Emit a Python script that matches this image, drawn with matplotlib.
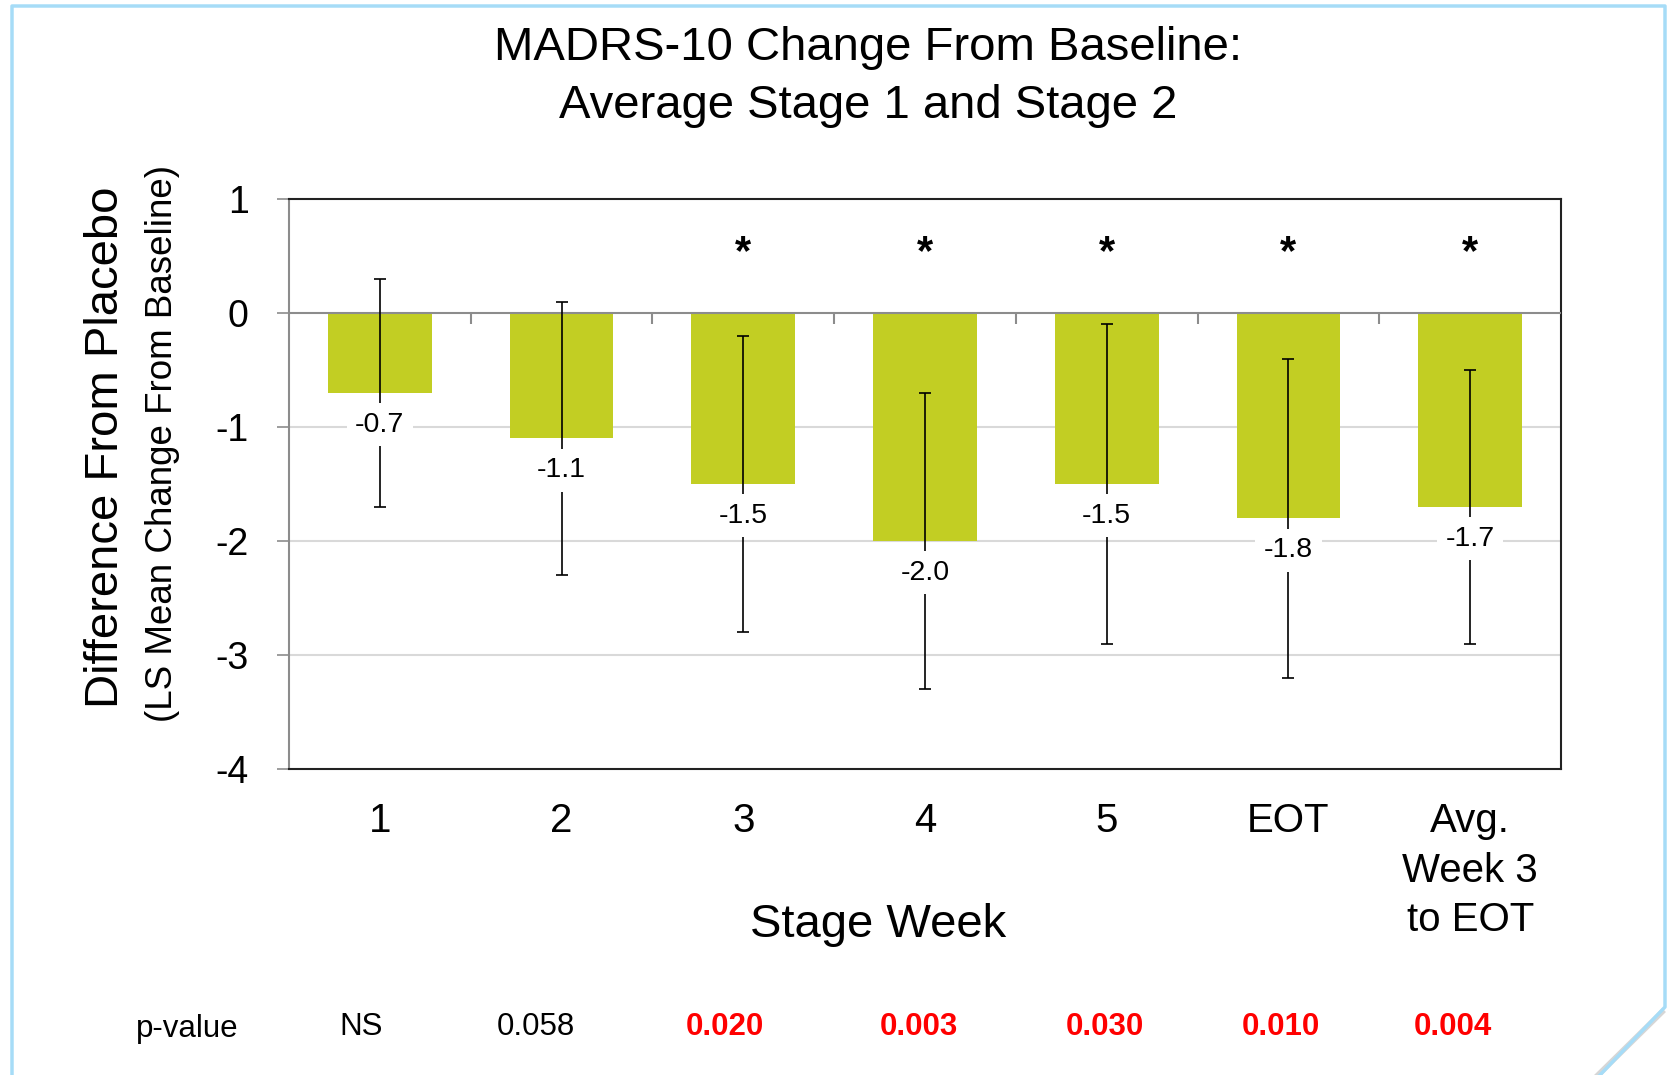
import matplotlib
matplotlib.use('Agg')
import matplotlib.pyplot as plt
from matplotlib.lines import Line2D
from matplotlib.patches import Polygon
import matplotlib.transforms as mtransforms

plt.rcParams['font.family'] = ['Liberation Sans', 'DejaVu Sans']

# data
weeks = ['1', '2', '3', '4', '5', 'EOT', 'Avg.\nWeek 3\nto EOT']
diff = [-0.7, -1.1, -1.5, -2.0, -1.5, -1.8, -1.7]
ci_upper = [0.3, 0.1, -0.2, -0.7, -0.1, -0.4, -0.5]
ci_lower = [-1.7, -2.3, -2.8, -3.3, -2.9, -3.2, -2.9]
significant = [False, False, True, True, True, True, True]
p_values = ['NS', '0.058', '0.020', '0.003', '0.030', '0.010', '0.004']

bar_color = '#C2CE23'
W, H = 1667, 1075

fig = plt.figure(figsize=(W / 100, H / 100), dpi=100)
ax = fig.add_axes([289 / W, 1 - 769 / H, (1561 - 289) / W, (769 - 199) / H])

x = list(range(len(weeks)))
err_lo = [d - lo for d, lo in zip(diff, ci_lower)]
err_hi = [hi - d for d, hi in zip(diff, ci_upper)]

# grid + zero line
for g in [-1, -2, -3]:
    ax.axhline(g, color='#d9d9d9', lw=1.5, zorder=0)
ax.bar(x, diff, width=0.57, color=bar_color, zorder=2)
ax.axhline(0, color='#8c8c8c', lw=1.5, zorder=3)
ax.vlines([i + 0.5 for i in x[:-1]], -0.1, 0, color='#8c8c8c', lw=1.5, zorder=3)
ax.errorbar(x, diff, yerr=[err_lo, err_hi], fmt='none', ecolor='black',
            elinewidth=1.2, capsize=4.5, capthick=1.2, zorder=4)

# value labels with white boxes
for i, d in enumerate(diff):
    ax.annotate(f'{d:.1f}', (i, d), xytext=(0, -23), textcoords='offset points',
                ha='center', va='center', fontsize=20.5, zorder=5,
                bbox=dict(boxstyle='square,pad=0.3', fc='white', ec='none'))

# significance stars
for i, s in enumerate(significant):
    if s:
        ax.text(i, 0.53, '*', ha='center', va='center', fontsize=30, fontweight='bold')

ax.set_xlim(-0.5, len(weeks) - 0.5)
ax.set_ylim(-4, 1)
ax.set_yticks([1, 0, -1, -2, -3, -4])
ax.set_yticklabels(['1', '0', '-1', '-2', '-3', '-4'], fontsize=27)
ax.tick_params(axis='y', length=9, width=1.2, color='#8c8c8c', pad=20)
ax.set_xticks(x)
ax.set_xticklabels(weeks, fontsize=29, linespacing=1.38, va='top')
ax.tick_params(axis='x', length=0, pad=24)

for side in ['top', 'right', 'bottom']:
    ax.spines[side].set_color('#222222')
    ax.spines[side].set_linewidth(1.5)
ax.spines['left'].set_color('#8c8c8c')
ax.spines['left'].set_linewidth(1.5)

# titles and labels
fig.text(868 / W, 1 - 77 / H, 'MADRS-10 Change From Baseline:\nAverage Stage 1 and Stage 2',
         ha='center', va='center', fontsize=34, linespacing=1.4)
fig.text(106 / W, 1 - 447 / H, 'Difference From Placebo', rotation=90,
         ha='center', va='center', fontsize=34)
fig.text(162 / W, 1 - 444 / H, '(LS Mean Change From Baseline)', rotation=90,
         ha='center', va='center', fontsize=26.5)
fig.text(878 / W, 1 - 925 / H, 'Stage Week', ha='center', va='center', fontsize=34)

# p-value row
narrow = ['Liberation Sans Narrow', 'Liberation Sans', 'DejaVu Sans']
p_nudge = [-0.105, -0.14, -0.10, -0.034, -0.01, -0.04, -0.095]
trans = mtransforms.blended_transform_factory(ax.transData, fig.transFigure)
fig.text(187 / W, 1 - 1029 / H, 'p-value', ha='center', va='center',
         fontsize=22.5, family=narrow)
for i, (p, s) in enumerate(zip(p_values, significant)):
    ax.text(i + p_nudge[i], 1 - 1027 / H, p, transform=trans, ha='center', va='center',
            fontsize=22.5, family=narrow, color='red' if s else 'black',
            fontweight='bold' if s else 'normal', clip_on=False)

# slide frame with page curl
frame_col = '#a6dcf7'
fig.add_artist(Polygon([[1667 / W, 1 - 1007 / H], [1600 / W, 0], [1667 / W, 0]],
                       closed=True, transform=fig.transFigure, fc='white', ec='none'))
fig.add_artist(Line2D([1662 / W, 1598 / W], [1 - 1012 / H, 0], transform=fig.transFigure,
                      color='#bbbbbb', lw=4, alpha=0.6))
fig.add_artist(Line2D([12 / W, 12 / W, 1665 / W, 1665 / W, 1600 / W],
                      [0, 1 - 6 / H, 1 - 6 / H, 1 - 1007 / H, 0],
                      transform=fig.transFigure, color=frame_col, lw=2.5))

fig.savefig('out.png', dpi=100, facecolor='white')
